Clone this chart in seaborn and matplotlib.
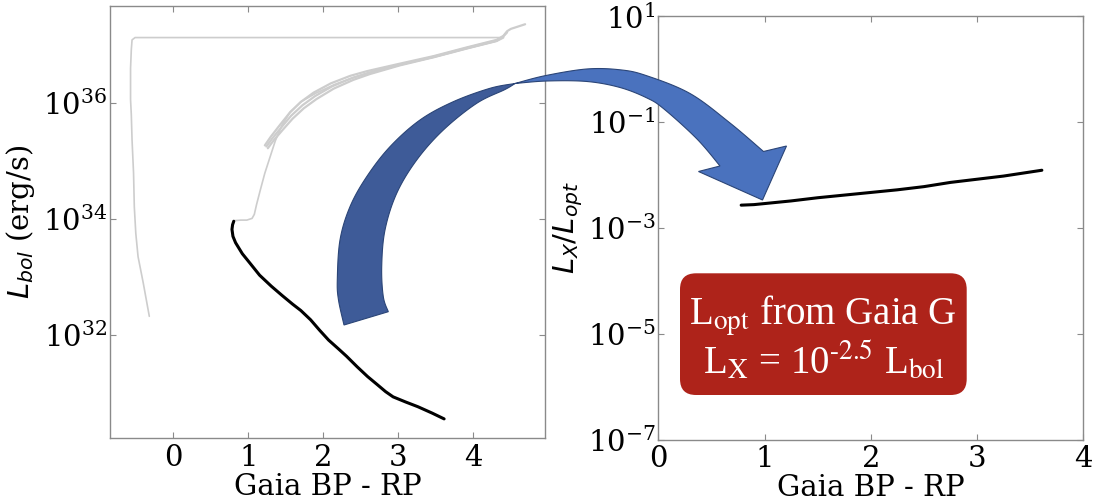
import numpy as np
import pandas as pd
import matplotlib
matplotlib.use("Agg")
import matplotlib.pyplot as plt
import seaborn as sns
from matplotlib.patches import Polygon, FancyBboxPatch
from matplotlib.transforms import IdentityTransform
from matplotlib.ticker import FixedLocator, NullLocator

# ---------------- data ----------------
# left panel: black evolutionary track (Gaia BP-RP, log10 Lbol)
track_bprp = [0.806, 0.790, 0.782, 0.795, 0.83, 0.92, 1.02, 1.15, 1.306, 1.45, 1.59, 1.70,
              1.83, 1.95, 2.07, 2.20, 2.31, 2.45, 2.59, 2.72, 2.83, 2.93, 3.10, 3.26, 3.45, 3.61]
track_logL = [33.96, 33.90, 33.82, 33.70, 33.59, 33.40, 33.24, 33.03, 32.84, 32.68, 32.53, 32.42,
              32.26, 32.08, 31.91, 31.76, 31.63, 31.45, 31.28, 31.14, 31.02, 30.93, 30.84, 30.76, 30.65, 30.55]

# left panel: grey tracks
greyA_bprp = [-0.32, -0.40, -0.47, -0.50, -0.52, -0.53, -0.55, -0.56, -0.57, -0.57, -0.56, -0.55, -0.51, 4.36]
greyA_logL = [32.32, 32.89, 33.35, 33.75, 34.21, 34.79, 35.36, 35.80, 36.06, 36.60, 36.92, 37.09, 37.13, 37.13]

greyB1_bprp = [1.22, 1.30, 1.42, 1.55, 1.70, 1.87, 2.10, 2.36, 2.58, 3.02, 3.47, 3.91, 4.31, 4.40, 4.45, 4.50, 4.69]
greyB1_logL = [35.27, 35.42, 35.62, 35.83, 36.02, 36.18, 36.34, 36.47, 36.55, 36.68, 36.81, 36.96, 37.09, 37.16, 37.24, 37.28, 37.36]
greyB2_bprp = [1.24, 1.32, 1.44, 1.57, 1.72, 1.89, 2.12, 2.38, 2.60, 3.02, 3.47, 3.91, 4.31, 4.40, 4.45]
greyB2_logL = [35.25, 35.39, 35.58, 35.78, 35.96, 36.12, 36.29, 36.43, 36.52, 36.66, 36.80, 36.95, 37.08, 37.15, 37.22]
greyB3_bprp = [1.26, 1.34, 1.46, 1.59, 1.74, 1.91, 2.14, 2.40, 2.62, 3.02, 3.47, 3.91, 4.31, 4.40]
greyB3_logL = [35.22, 35.36, 35.54, 35.73, 35.91, 36.07, 36.25, 36.40, 36.50, 36.65, 36.79, 36.94, 37.07, 37.13]

greyC_bprp = [0.80, 0.90, 0.98, 1.05, 1.08, 1.11, 1.16, 1.22, 1.29, 1.36, 1.45, 1.56, 1.70,
              1.90, 2.15, 2.40, 2.70, 3.02, 3.47, 3.91, 4.31, 4.36]
greyC_logL = [33.97, 33.98, 33.98, 34.01, 34.08, 34.25, 34.50, 34.79, 35.07, 35.35, 35.62, 35.85, 36.02,
              36.17, 36.32, 36.44, 36.56, 36.66, 36.79, 36.94, 37.07, 37.12]

# right panel: Lx/Lopt vs BP-RP
ratio_bprp = [0.78, 0.90, 1.00, 1.25, 1.50, 1.75, 2.00, 2.25, 2.50, 2.75, 3.00, 3.25, 3.61]
ratio_log = [-2.57, -2.56, -2.54, -2.49, -2.43, -2.38, -2.33, -2.28, -2.22, -2.14, -2.08, -2.02, -1.91]

left_yticks = [1e32, 1e34, 1e36]
right_yticks = [1e-7, 1e-5, 1e-3, 1e-1, 1e1]
left_xticks = [0, 1, 2, 3, 4]
right_xticks = [0, 1, 2, 3, 4]

# ---------------- style ----------------
sns.set_theme(style="ticks")
plt.rcParams["font.family"] = ["DejaVu Serif", "DejaVu Sans"]
plt.rcParams["mathtext.fontset"] = "dejavusans"
FRAME = "#8a8a8a"
plt.rcParams.update({
    "axes.edgecolor": FRAME, "axes.linewidth": 1.0,
    "axes.labelcolor": "black", "text.color": "black",
    "xtick.direction": "in", "ytick.direction": "in",
    "xtick.top": True, "ytick.right": True,
    "xtick.color": FRAME, "ytick.color": FRAME,
    "xtick.labelcolor": "black", "ytick.labelcolor": "black",
    "xtick.major.size": 4, "ytick.major.size": 4,
    "xtick.major.width": 0.8, "ytick.major.width": 0.8,
    "xtick.labelsize": 21, "ytick.labelsize": 21,
    "axes.labelsize": 21,
})

W, H = 1094, 499
fig = plt.figure(figsize=(W / 100, H / 100), dpi=100)
fig.patch.set_facecolor("white")

def frac(x0, y0, x1, y1):
    return [x0 / W, 1 - y1 / H, (x1 - x0) / W, (y1 - y0) / H]

axL = fig.add_axes(frac(110, 5.7, 545, 438))
axR = fig.add_axes(frac(658.3, 16.3, 1083.3, 439.5))

GREY = "#cdcdcd"
def draw(ax, xs, ys_log, color, lw):
    df = pd.DataFrame({"x": xs, "y": 10 ** np.asarray(ys_log, float)})
    sns.lineplot(data=df, x="x", y="y", ax=ax, sort=False, estimator=None,
                 color=color, lw=lw)

draw(axL, greyA_bprp, greyA_logL, GREY, 1.2)
draw(axL, greyC_bprp, greyC_logL, GREY, 1.2)
draw(axL, greyB3_bprp, greyB3_logL, GREY, 1.6)
draw(axL, greyB2_bprp, greyB2_logL, GREY, 1.6)
draw(axL, greyB1_bprp, greyB1_logL, GREY, 1.6)
draw(axL, track_bprp, track_logL, "black", 2.2)
draw(axR, ratio_bprp, ratio_log, "black", 2.2)

for ax in (axL, axR):
    ax.set_yscale("log")
    ax.yaxis.set_minor_locator(NullLocator())
    ax.xaxis.set_minor_locator(NullLocator())
    ax.tick_params(axis="y", pad=2)
    ax.tick_params(axis="x", pad=4)
    ax.set_xlabel("Gaia BP - RP", labelpad=1)

axL.set_xlim(-0.844, 4.955)
axL.set_ylim(10 ** 30.22, 10 ** 37.68)
axL.yaxis.set_major_locator(FixedLocator(left_yticks))
axL.set_xticks(left_xticks)
axL.set_ylabel(r"$L_{bol}$ (erg/s)", labelpad=4)

axR.set_xlim(0, 4)
axR.set_ylim(1e-7, 1e1)
axR.yaxis.set_major_locator(FixedLocator(right_yticks))
axR.set_xticks(right_xticks)
axR.set_ylabel(r"$L_X/L_{opt}$", labelpad=2)

# ---------------- curved block arrow (decoration, figure pixels) ----------------
def smooth(pts, n=14):
    P = np.asarray(pts, float)
    P = np.vstack([P[0], P, P[-1]])
    out = []
    t = np.linspace(0, 1, n, endpoint=False)[:, None]
    for i in range(1, len(P) - 2):
        p0, p1, p2, p3 = P[i - 1], P[i], P[i + 1], P[i + 2]
        seg = 0.5 * ((2 * p1) + (-p0 + p2) * t + (2 * p0 - 5 * p1 + 4 * p2 - p3) * t ** 2
                     + (-p0 + 3 * p1 - 3 * p2 + p3) * t ** 3)
        out.append(seg)
    out.append(P[-2][None])
    return np.vstack(out)

def to_disp(arr):
    arr = np.asarray(arr, float).copy()
    arr[:, 1] = H - arr[:, 1]
    return arr

dark_outer = [(344, 325), (338.5, 300), (337.3, 280), (340, 240), (350, 206.7), (366.7, 176.7),
              (390, 146.7), (420, 120), (453.3, 101.7), (490, 88.3), (515, 83.5)]
dark_inner = [(515, 83.5), (505, 89.5), (476.7, 103.3), (443.3, 130), (416.7, 160),
              (396.7, 193.3), (385, 230), (381.7, 266.7), (383.3, 296.7), (388.3, 311.7)]
dark_poly = np.vstack([smooth(dark_outer), smooth(dark_inner)])

light_outer = [(515, 83.5), (545, 75.7), (586.7, 69), (620, 69.8), (646, 75.5), (690, 93.5),
               (730, 123), (763.5, 151.5)]
head = [(786.5, 146), (762.5, 200), (698.5, 171.5), (720, 166)]
light_inner = [(720, 166), (697, 139), (664, 109), (647, 98), (620, 87.5), (587, 81.5),
               (547, 81), (515, 83.5)]
light_poly = np.vstack([smooth(light_outer), np.array(head), smooth(light_inner)])

EDGE = "#2b4577"
fig.add_artist(Polygon(to_disp(dark_poly), closed=True, transform=IdentityTransform(),
                       facecolor="#3e5b98", edgecolor=EDGE, lw=0.8, zorder=10))
fig.add_artist(Polygon(to_disp(light_poly), closed=True, transform=IdentityTransform(),
                       facecolor="#4a72be", edgecolor=EDGE, lw=0.8, zorder=11))

# ---------------- red annotation box ----------------
bx0, by0, bx1, by1 = 680, 273.3, 966.7, 395
fig.add_artist(FancyBboxPatch((bx0, H - by1), bx1 - bx0, by1 - by0,
                              boxstyle="round,pad=0,rounding_size=16",
                              transform=IdentityTransform(), facecolor="#ae231a",
                              edgecolor="none", zorder=12))
cx = (bx0 + bx1) / 2
kw = dict(ha="center", va="baseline", color="white", fontsize=28,
          family="Liberation Serif", math_fontfamily="stix", zorder=13)
fig.text(cx / W, 1 - 325 / H, r"L$_{\mathrm{opt}}$ from Gaia G", **kw)
fig.text(cx / W, 1 - 373.3 / H, r"L$_{\mathrm{X}}$ = 10$^{\text{-2.5}}$ L$_{\mathrm{bol}}$", **kw)

fig.savefig("out.png", dpi=100)
